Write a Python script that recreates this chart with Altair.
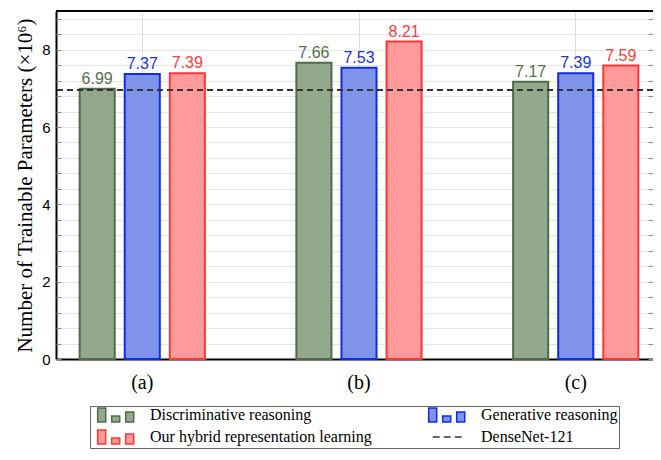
import altair as alt
import pandas as pd

groups = ["(a)", "(b)", "(c)"]
series = ["Discriminative reasoning", "Generative reasoning", "Our hybrid representation learning"]
disc_vals = [6.99, 7.66, 7.17]
gen_vals = [7.37, 7.53, 7.39]
hyb_vals = [7.39, 8.21, 7.59]
densenet_val = [6.96]
y_max = [9.0]
# legend entries, listed column by column (col 1 then col 2)
legend_entries = ["Discriminative reasoning", "Our hybrid representation learning",
                  "Generative reasoning", "DenseNet-121"]

fills = ["#94a98c", "#7e93e9", "#ff9a9a"]
strokes = ["#4f6b47", "#0d2ee0", "#ff3535"]
text_colors = ["#55704c", "#1a33e0", "#ff3b3b"]
legend_fills = ["#94a98c", "#ff9a9a", "#7e93e9", "transparent"]
legend_strokes = ["#4f6b47", "#ff3535", "#0d2ee0", "#333333"]

rows = []
for s, vals in zip(series, [disc_vals, gen_vals, hyb_vals]):
    for g, v in zip(groups, vals):
        rows.append({"group": g, "series": s, "value": v})
df = pd.DataFrame(rows)
dn_df = pd.DataFrame({"value": densenet_val})
top_df = pd.DataFrame({"value": y_max})
leg_df = pd.DataFrame({"entry": legend_entries})

minor_vals = [round(i * 0.4, 1) for i in range(23)]
yscale = alt.Scale(domain=[0, 9], nice=False, zero=True)

xenc = alt.X("group:N", sort=groups,
             scale=alt.Scale(paddingInner=0.376, paddingOuter=0.086, range=[0, 606]),
             axis=alt.Axis(title=None, labelAngle=0, ticks=False, domain=True,
                           domainColor="black", domainWidth=2,
                           labelFont="Liberation Serif", labelFontSize=20,
                           labelColor="black", labelPadding=13,
                           grid=True, gridColor="#dcdcdc", bandPosition=0.5))
xoff = alt.XOffset("series:N", sort=series,
                   scale=alt.Scale(paddingInner=0.222, paddingOuter=0.111))

bars = alt.Chart(df).mark_bar(strokeWidth=2).encode(
    x=xenc, xOffset=xoff,
    y=alt.Y("value:Q", scale=yscale,
            axis=alt.Axis(orient="left", values=minor_vals,
                          labelExpr="datum.value % 2 === 0 ? format(datum.value, 'd') : ''",
                          labelOverlap=False, ticks=False, domain=True,
                          domainColor="black", domainWidth=2,
                          grid=True, gridColor="#e6e6e6",
                          labelFont="Liberation Sans", labelFontSize=15,
                          labelColor="black", labelPadding=6,
                          title="Number of Trainable Parameters (×10⁶)",
                          titleFont="Liberation Serif", titleFontSize=21,
                          titleFontWeight="normal", titleColor="black",
                          titlePadding=6)),
    fill=alt.Fill("series:N", scale=alt.Scale(domain=series, range=fills), legend=None),
    stroke=alt.Stroke("series:N", scale=alt.Scale(domain=series, range=strokes), legend=None),
)

texts = alt.Chart(df).mark_text(baseline="alphabetic", dy=-5,
                                font="Liberation Sans", fontSize=16).encode(
    x=xenc, xOffset=xoff,
    y=alt.Y("value:Q", scale=yscale, axis=None),
    text=alt.Text("value:Q", format=".2f"),
    color=alt.Color("series:N", scale=alt.Scale(domain=series, range=text_colors), legend=None),
)

tick_axis_common = dict(values=minor_vals, labels=False, domain=False, grid=False,
                        tickSize=5, tickColor="#8a8a8a", tickWidth=1, title=None, offset=-5)

dn_rule = alt.Chart(dn_df).mark_rule(strokeDash=[6, 4], strokeWidth=2, color="#333333").encode(
    y=alt.Y("value:Q", scale=yscale, axis=alt.Axis(orient="left", **tick_axis_common)),
)

top_rule = alt.Chart(top_df).mark_rule(strokeWidth=2, color="black").encode(
    y=alt.Y("value:Q", scale=yscale, axis=alt.Axis(orient="right", **tick_axis_common)),
)

# legend icons (unit = 7 px), drawn to the right of the symbol anchor
bars_icon = ("M-0.19,-1H0.96V1H-0.19Z M1.81,0.14H2.96V1H1.81Z "
             "M3.81,-0.43H4.96V1H3.81Z")
dash_icon = "M0.39,0H1.39M1.96,0H2.96M3.53,0H4.53"

leg = alt.Legend(title=None, orient="none", legendX=34, legendY=395, columns=2,
                 strokeColor="#666666", fillColor="white", padding=1,
                 columnPadding=50, rowPadding=2, symbolSize=196,
                 symbolStrokeWidth=1.5, symbolOpacity=1, labelOffset=43,
                 labelFont="Liberation Serif", labelFontSize=16,
                 labelColor="black", labelLimit=400)

legend_layer = alt.Chart(leg_df).mark_point(filled=True, opacity=0, size=196).encode(
    shape=alt.Shape("entry:N", sort=legend_entries, scale=alt.Scale(domain=legend_entries,
                    range=[bars_icon, bars_icon, bars_icon, dash_icon]), legend=leg),
    fill=alt.Fill("entry:N", sort=legend_entries, scale=alt.Scale(domain=legend_entries,
                  range=legend_fills), legend=leg),
    stroke=alt.Stroke("entry:N", sort=legend_entries, scale=alt.Scale(domain=legend_entries,
                      range=legend_strokes), legend=leg),
)

chart = alt.layer(bars, texts, dn_rule, top_rule, legend_layer).resolve_scale(
    fill="independent", stroke="independent", shape="independent", color="independent"
).resolve_axis(y="independent").properties(
    width=597, height=348,
    autosize=alt.AutoSizeParams(type="none"),
    padding={"left": 48, "top": 3, "right": 0, "bottom": 93},
).configure_view(stroke=None).configure_legend(
    strokeColor="#666666", strokeWidth=1, fillColor="white"
)

chart.save("out.html", embed_options={"renderer": "svg", "actions": False})
